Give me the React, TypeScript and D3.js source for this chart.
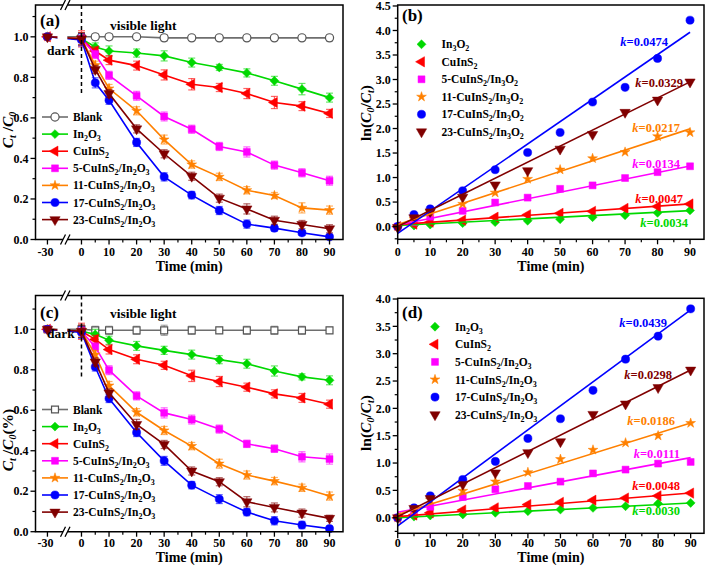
import React from "react";
import * as d3 from "d3";

const FONT = "'Liberation Serif','Times New Roman',Times,serif";

// ---------- data ----------
const timesDecay = [-30, 0, 5, 10, 20, 30, 40, 50, 60, 70, 80, 90];
const timesFit = [0, 5, 10, 20, 30, 40, 50, 60, 70, 80, 90];

const namesDecay = ["Blank", "In2O3", "CuInS2", "5-CuInS2/In2O3", "11-CuInS2/In2O3", "17-CuInS2/In2O3", "23-CuInS2/In2O3"];
const namesFitB = ["In3O2", "CuInS2", "5-CuInS2/In3O2", "11-CuInS2/In3O2", "17-CuInS2/In3O2", "23-CuInS2/In3O2"];
const namesFitD = ["In2O3", "CuInS2", "5-CuInS2/In2O3", "11-CuInS2/In2O3", "17-CuInS2/In2O3", "23-CuInS2/In2O3"];

// panel (a)
const blankA = [1.0, 1.0, 1.0, 1.0, 1.0, 0.995, 0.995, 0.995, 0.995, 0.995, 0.995, 0.995];
const in2o3A = [1.0, 0.99, 0.95, 0.93, 0.92, 0.906, 0.873, 0.849, 0.822, 0.783, 0.742, 0.7];
const cuinsA = [1.0, 0.99, 0.93, 0.885, 0.858, 0.812, 0.766, 0.75, 0.72, 0.676, 0.658, 0.622];
const c5A = [1.0, 0.99, 0.913, 0.81, 0.709, 0.607, 0.544, 0.459, 0.432, 0.367, 0.329, 0.29];
const c11A = [1.0, 0.99, 0.86, 0.745, 0.635, 0.493, 0.37, 0.309, 0.243, 0.217, 0.156, 0.145];
const c17A = [1.0, 0.985, 0.773, 0.687, 0.479, 0.309, 0.219, 0.143, 0.076, 0.056, 0.033, 0.013];
const c23A = [1.0, 0.99, 0.839, 0.72, 0.546, 0.423, 0.312, 0.204, 0.151, 0.095, 0.074, 0.053];

const errBlankA = [0.01, 0.015, 0.015, 0.015, 0.012, 0.015, 0.012, 0.012, 0.01, 0.012, 0.012, 0.015];
const errIn2o3A = [0.01, 0.03, 0.02, 0.025, 0.02, 0.025, 0.022, 0.015, 0.02, 0.022, 0.028, 0.022];
const errCuinsA = [0.01, 0.04, 0.02, 0.022, 0.022, 0.025, 0.028, 0.02, 0.025, 0.03, 0.022, 0.02];
const errC5A = [0.01, 0.03, 0.02, 0.02, 0.022, 0.022, 0.02, 0.02, 0.025, 0.02, 0.02, 0.022];
const errC11A = [0.01, 0.03, 0.02, 0.02, 0.02, 0.022, 0.018, 0.018, 0.018, 0.015, 0.025, 0.02];
const errC17A = [0.01, 0.03, 0.025, 0.02, 0.02, 0.02, 0.018, 0.02, 0.02, 0.015, 0.012, 0.01];
const errC23A = [0.01, 0.03, 0.02, 0.02, 0.02, 0.02, 0.02, 0.02, 0.025, 0.02, 0.02, 0.02];

// panel (c)
const blankC = [1.0, 1.0, 0.995, 0.995, 0.995, 0.995, 0.995, 0.995, 0.995, 0.995, 0.995, 0.995];
const in2o3C = [1.0, 0.99, 0.975, 0.946, 0.918, 0.896, 0.875, 0.85, 0.83, 0.794, 0.765, 0.748];
const cuinsC = [1.0, 0.99, 0.95, 0.9, 0.852, 0.822, 0.77, 0.742, 0.714, 0.681, 0.661, 0.63];
const c5C = [1.0, 0.99, 0.913, 0.798, 0.671, 0.587, 0.554, 0.507, 0.434, 0.41, 0.37, 0.359];
const c11C = [1.0, 0.99, 0.875, 0.722, 0.59, 0.5, 0.423, 0.336, 0.28, 0.25, 0.217, 0.176];
const c17C = [1.0, 0.985, 0.814, 0.658, 0.49, 0.35, 0.23, 0.161, 0.097, 0.054, 0.033, 0.015];
const c23C = [1.0, 0.99, 0.839, 0.686, 0.53, 0.431, 0.3, 0.247, 0.148, 0.12, 0.092, 0.066];

const errBlankC = [0.01, 0.02, 0.02, 0.02, 0.02, 0.025, 0.02, 0.015, 0.02, 0.02, 0.02, 0.015];
const errIn2o3C = [0.01, 0.03, 0.025, 0.02, 0.022, 0.02, 0.022, 0.02, 0.022, 0.025, 0.015, 0.022];
const errCuinsC = [0.01, 0.04, 0.02, 0.022, 0.022, 0.02, 0.028, 0.025, 0.02, 0.02, 0.022, 0.02];
const errC5C = [0.01, 0.03, 0.02, 0.022, 0.02, 0.025, 0.022, 0.02, 0.018, 0.018, 0.025, 0.025];
const errC11C = [0.01, 0.03, 0.02, 0.02, 0.018, 0.02, 0.018, 0.022, 0.02, 0.018, 0.018, 0.02];
const errC17C = [0.01, 0.03, 0.02, 0.02, 0.02, 0.022, 0.018, 0.022, 0.018, 0.02, 0.018, 0.012];
const errC23C = [0.01, 0.03, 0.02, 0.02, 0.025, 0.02, 0.02, 0.02, 0.025, 0.022, 0.02, 0.015];

// panel (b)
const in2o3B = [0.0, 0.02, 0.04, 0.07, 0.09, 0.12, 0.15, 0.19, 0.23, 0.28, 0.33];
const cuinsB = [0.0, 0.05, 0.09, 0.13, 0.19, 0.24, 0.27, 0.31, 0.37, 0.41, 0.46];
const c5B = [0.0, 0.09, 0.2, 0.32, 0.49, 0.59, 0.77, 0.84, 0.99, 1.11, 1.23];
const c11B = [0.0, 0.15, 0.29, 0.46, 0.69, 0.97, 1.16, 1.39, 1.52, 1.84, 1.92];
const c17B = [0.0, 0.245, 0.36, 0.73, 1.16, 1.51, 1.92, 2.54, 2.84, 3.43, 4.21];
const c23B = [-0.02, 0.18, 0.3, 0.6, 0.85, 1.14, 1.58, 1.88, 2.33, 2.58, 2.95];
const fitSlopeB = [0.0034, 0.0047, 0.0134, 0.0217, 0.0456, 0.0328];
const fitInterceptB = [0.02, 0.04, 0.03, 0.04, -0.14, 0.0];
const kLabelB = ["0.0034", "0.0047", "0.0134", "0.0217", "0.0474", "0.0329"];

// panel (d)
const in2o3D = [0.0, 0.02, 0.04, 0.06, 0.09, 0.12, 0.15, 0.18, 0.21, 0.26, 0.27];
const cuinsD = [0.0, 0.05, 0.09, 0.14, 0.18, 0.24, 0.28, 0.32, 0.36, 0.4, 0.45];
const c5D = [0.0, 0.09, 0.2, 0.38, 0.52, 0.58, 0.66, 0.81, 0.88, 0.99, 1.02];
const c11D = [0.0, 0.13, 0.33, 0.49, 0.66, 0.83, 1.07, 1.24, 1.37, 1.5, 1.73];
const c17D = [0.0, 0.18, 0.4, 0.7, 1.03, 1.45, 1.81, 2.33, 2.9, 3.32, 3.82];
const c23D = [0.0, 0.17, 0.35, 0.61, 0.82, 1.19, 1.39, 1.89, 2.08, 2.38, 2.7];
const fitSlopeD = [0.003, 0.0048, 0.0111, 0.0186, 0.0439, 0.0298];
const fitInterceptD = [0.0, 0.02, 0.1, 0.06, -0.15, 0.02];
const kLabelD = ["0.0030", "0.0048", "0.0111", "0.0186", "0.0439", "0.0298"];

const xTicksDecay = [-30, 0, 10, 20, 30, 40, 50, 60, 70, 80, 90];
const xTicksFit = [0, 10, 20, 30, 40, 50, 60, 70, 80, 90];

// ---------- styles ----------
const COLORS = ["#6e6e6e", "#00d800", "#ff0000", "#ff00ff", "#ff8000", "#0000ff", "#800000"];
const SHAPES = ["circleOpen", "diamond", "triLeft", "square", "star", "circle", "triDown"];

function symbolPath(shape: string) {
  switch (shape) {
    case "circleOpen":
    case "circle":
      return { d: d3.symbol().type(d3.symbolCircle).size(52)()!, r: 0 };
    case "squareOpen":
    case "square":
      return { d: d3.symbol().type(d3.symbolSquare).size(48)()!, r: 0 };
    case "diamond":
      return { d: d3.symbol().type(d3.symbolSquare).size(40)()!, r: 45 };
    case "triLeft":
      return { d: d3.symbol().type(d3.symbolTriangle).size(46)()!, r: -90 };
    case "triDown":
      return { d: d3.symbol().type(d3.symbolTriangle).size(46)()!, r: 180 };
    case "star":
      return { d: d3.symbol().type(d3.symbolStar).size(30)()!, r: 0 };
  }
  return { d: "", r: 0 };
}

function Marker({ shape, color, x, y }: { shape: string; color: string; x: number; y: number }) {
  const { d, r } = symbolPath(shape);
  const open = shape.endsWith("Open");
  return (
    <path
      d={d}
      transform={`translate(${x},${y}) rotate(${r})`}
      fill={open ? "#fff" : color}
      stroke={open ? "#555" : color}
      strokeWidth={open ? 1.2 : 0.5}
    />
  );
}

// chemistry label: digit after a letter -> subscript
function chem(label: string, subSize = 8) {
  const parts: { t: string; sub: boolean }[] = [];
  for (let i = 0; i < label.length; i++) {
    const ch = label[i];
    const sub = /[0-9]/.test(ch) && i > 0 && /[A-Za-z]/.test(label[i - 1]);
    if (parts.length && parts[parts.length - 1].sub === sub) parts[parts.length - 1].t += ch;
    else parts.push({ t: ch, sub });
  }
  let lvl = false;
  return parts.map((p, i) => {
    let dy = 0;
    if (p.sub && !lvl) dy = 3;
    if (!p.sub && lvl) dy = -3;
    lvl = p.sub;
    return (
      <tspan key={i} dy={dy} fontSize={p.sub ? subSize : undefined}>
        {p.t}
      </tspan>
    );
  });
}

type Box = { left: number; right: number; top: number; bottom: number };

function Frame({ box, gap }: { box: Box; gap?: [number, number] }) {
  const { left, right, top, bottom } = box;
  if (!gap) {
    return <rect x={left} y={top} width={right - left} height={bottom - top} fill="none" stroke="#000" strokeWidth={1.5} />;
  }
  const [g0, g1] = gap;
  const d = `M${g0},${top}H${left}V${bottom}H${g0}M${g1},${bottom}H${right}V${top}H${g1}`;
  const slash = (cx: number, cy: number) => `M${cx - 2.5},${cy + 5}L${cx + 2.5},${cy - 5}`;
  return (
    <g>
      <path d={d} fill="none" stroke="#000" strokeWidth={1.5} />
      <path d={slash(g0, top) + slash(g1, top) + slash(g0, bottom) + slash(g1, bottom)} stroke="#000" strokeWidth={1.3} fill="none" />
    </g>
  );
}

function XAxis({ x, box, ticks, minor, labelY, titleY }: any) {
  return (
    <g fontFamily={FONT} fontWeight="bold">
      {ticks.map((t: number) => (
        <g key={"M" + t}>
          <line x1={x(t)} x2={x(t)} y1={box.bottom} y2={box.bottom + 5} stroke="#000" strokeWidth={1.3} />
          <text x={x(t) - (t < 0 ? 2 : 0)} y={labelY} textAnchor="middle" fontSize={12}>
            {t}
          </text>
        </g>
      ))}
      {minor.map((t: number) => (
        <line key={"m" + t} x1={x(t)} x2={x(t)} y1={box.bottom} y2={box.bottom + 3} stroke="#000" strokeWidth={1.2} />
      ))}
      <text x={(box.left + box.right) / 2} y={titleY} textAnchor="middle" fontSize={14}>
        Time (min)
      </text>
    </g>
  );
}

function YAxis({ y, box, ticks, minor }: any) {
  const fmt = d3.format(".1f");
  return (
    <g fontFamily={FONT} fontWeight="bold">
      {ticks.map((t: number) => (
        <g key={"M" + t}>
          <line x1={box.left - 5} x2={box.left} y1={y(t)} y2={y(t)} stroke="#000" strokeWidth={1.3} />
          <text x={box.left - 7} y={y(t) + 4.2} textAnchor="end" fontSize={12}>
            {fmt(t)}
          </text>
        </g>
      ))}
      {minor.map((t: number) => (
        <line key={"m" + t} x1={box.left - 3} x2={box.left} y1={y(t)} y2={y(t)} stroke="#000" strokeWidth={1.2} />
      ))}
    </g>
  );
}

function DecayPanel({ box, yMax, series, errs, blankShape, tag, tagY, lightY, darkY, dashEnd, legendY, titleParts, titleCenter, labelY, titleY }: any) {
  const x = d3.scaleLinear().domain([-35, -26, -5, 95]).range([box.left, 57, 67.7, 343.3]);
  const y = d3.scaleLinear().domain([0, yMax]).range([box.bottom, box.top]);
  const line = d3.line<[number, number]>().x((d) => x(d[0])).y((d) => y(d[1]));
  const shapes = SHAPES.map((s, i) => (i === 0 ? blankShape : s));
  const yTicks = d3.range(0, 1.01, 0.2);
  const yMinor = d3.range(0.1, yMax, 0.2);
  const xMinor = d3.range(5, 90, 10);
  return (
    <g>
      {series.map((vals: number[], si: number) => {
        const pts = timesDecay.map((t, i) => [t, vals[i]] as [number, number]);
        return (
          <g key={si}>
            <path d={line(pts)!} fill="none" stroke={COLORS[si]} strokeWidth={1.6} />
            {pts.map((p, i) => {
              const e = errs[si][i];
              const px = x(p[0]);
              return (
                <g key={i} stroke={COLORS[si]} strokeOpacity={0.6} strokeWidth={1.2}>
                  <line x1={px} x2={px} y1={y(p[1] - e)} y2={y(p[1] + e)} />
                  <line x1={px - 3.5} x2={px + 3.5} y1={y(p[1] - e)} y2={y(p[1] - e)} />
                  <line x1={px - 3.5} x2={px + 3.5} y1={y(p[1] + e)} y2={y(p[1] + e)} />
                </g>
              );
            })}
            {pts.map((p, i) => (
              <Marker key={"k" + i} shape={shapes[si]} color={COLORS[si]} x={x(p[0])} y={y(p[1])} />
            ))}
          </g>
        );
      })}
      <rect x={57.5} y={box.top + 1} width={9.8} height={box.bottom - box.top - 2} fill="#fff" />
      <line x1={x(0)} x2={x(0)} y1={box.top} y2={dashEnd} stroke="#000" strokeWidth={1.5} strokeDasharray="4,3" />
      <Frame box={box} gap={[63, 67.5]} />
      <XAxis x={x} box={box} ticks={xTicksDecay} minor={xMinor} labelY={labelY} titleY={titleY} />
      <YAxis y={y} box={box} ticks={yTicks} minor={yMinor} />
      <g fontFamily={FONT} fontWeight="bold">
        <text x={40} y={tagY} fontSize={17}>{tag}</text>
        <text x={110} y={lightY} fontSize={13.5}>visible light</text>
        <text x={47} y={darkY} fontSize={13.5}>dark</text>
      </g>
      <g fontFamily={FONT} fontWeight="bold" fontSize={11.5}>
        {namesDecay.map((n, i) => {
          const ly = legendY + i * 17.1;
          return (
            <g key={n}>
              <line x1={42} x2={68} y1={ly} y2={ly} stroke={COLORS[i]} strokeWidth={1.6} />
              <Marker shape={shapes[i]} color={COLORS[i]} x={55} y={ly} />
              <text x={73} y={ly + 4}>{chem(n)}</text>
            </g>
          );
        })}
      </g>
      <text transform={`translate(${titleCenter[0]},${titleCenter[1]}) rotate(-90)`} textAnchor="middle" fontFamily={FONT} fontWeight="bold" fontSize={15.5}>
        {titleParts}
      </text>
    </g>
  );
}

function FitPanel({ box, yDomain, xMax, series, slopes, intercepts, kLabels, kPos, names, tag, tagY, legendX, legendY, legendDy, yTicks, yMinor, titleCenter, labelY, titleY }: any) {
  const x = d3.scaleLinear().domain([0, xMax]).range([box.left, box.right]);
  const y = d3.scaleLinear().domain(yDomain).range([box.bottom, box.top]);
  const shapes = SHAPES.slice(1);
  const colors = COLORS.slice(1);
  const xMinor = d3.range(5, 90, 10);
  return (
    <g>
      {series.map((vals: number[], si: number) => (
        <g key={"p" + si}>
          {timesFit.map((t, i) => (
            <Marker key={i} shape={shapes[si]} color={colors[si]} x={x(t)} y={y(vals[i])} />
          ))}
        </g>
      ))}
      {series.map((_: number[], si: number) => (
        <line
          key={"l" + si}
          x1={x(0)}
          x2={x(90)}
          y1={y(intercepts[si])}
          y2={y(intercepts[si] + slopes[si] * 90)}
          stroke={colors[si]}
          strokeWidth={1.6}
        />
      ))}
      <Frame box={box} />
      <XAxis x={x} box={box} ticks={xTicksFit} minor={xMinor} labelY={labelY} titleY={titleY} />
      <YAxis y={y} box={box} ticks={yTicks} minor={yMinor} />
      <g fontFamily={FONT} fontWeight="bold">
        <text x={402} y={tagY} fontSize={17}>{tag}</text>
        {kLabels.map((k: string, i: number) => (
          <text key={k + i} x={kPos[i][0]} y={kPos[i][1]} textAnchor="end" fontSize={12.5} fill={colors[i]}>
            <tspan fontStyle="italic">k</tspan>={k}
          </text>
        ))}
      </g>
      <g fontFamily={FONT} fontWeight="bold" fontSize={11.5}>
        {names.map((n: string, i: number) => {
          const ly = legendY + i * legendDy;
          return (
            <g key={n}>
              <Marker shape={shapes[i]} color={colors[i]} x={legendX} y={ly} />
              <text x={legendX + 20} y={ly + 4}>{chem(n)}</text>
            </g>
          );
        })}
      </g>
      <text transform={`translate(${titleCenter[0]},${titleCenter[1]}) rotate(-90)`} textAnchor="middle" fontFamily={FONT} fontWeight="bold" fontSize={15.5}>
        ln(<tspan fontStyle="italic">C</tspan>
        <tspan dy={3} fontSize={10} fontStyle="italic">0</tspan>
        <tspan dy={-3}>/</tspan>
        <tspan fontStyle="italic">C</tspan>
        <tspan dy={3} fontSize={10} fontStyle="italic">t</tspan>
        <tspan dy={-3}>)</tspan>
      </text>
    </g>
  );
}

const ctTitle = (suffix: string) => (
  <>
    <tspan fontStyle="italic">C</tspan>
    <tspan dy={3} fontSize={10} fontStyle="italic">t</tspan>
    <tspan dy={-3}> /</tspan>
    <tspan fontStyle="italic">C</tspan>
    <tspan dy={3} fontSize={10} fontStyle="italic">0</tspan>
    <tspan dy={-3}>{suffix}</tspan>
  </>
);

export default function App() {
  const boxA = { left: 35.5, right: 343, top: 5, bottom: 239.5 };
  const boxC = { left: 35.5, right: 343, top: 295.5, bottom: 531.7 };
  const boxB = { left: 397.7, right: 704, top: 5, bottom: 239.3 };
  const boxD = { left: 397.7, right: 704, top: 298.3, bottom: 533.3 };
  return (
    <svg width={709} height={566} style={{ display: "block", position: "absolute", left: 0, top: 0, background: "#fff" }}>
      <rect width={709} height={566} fill="#fff" />
      <DecayPanel
        box={boxA}
        yMax={1.157}
        series={[blankA, in2o3A, cuinsA, c5A, c11A, c17A, c23A]}
        errs={[errBlankA, errIn2o3A, errCuinsA, errC5A, errC11A, errC17A, errC23A]}
        blankShape="circleOpen"
        tag="(a)"
        tagY={26}
        lightY={29.5}
        darkY={55}
        dashEnd={95}
        legendY={117}
        titleParts={ctTitle("")}
        titleCenter={[13, 130]}
        labelY={255.5}
        titleY={271}
      />
      <DecayPanel
        box={boxC}
        yMax={1.167}
        series={[blankC, in2o3C, cuinsC, c5C, c11C, c17C, c23C]}
        errs={[errBlankC, errIn2o3C, errCuinsC, errC5C, errC11C, errC17C, errC23C]}
        blankShape="squareOpen"
        tag="(c)"
        tagY={318}
        lightY={318}
        darkY={338}
        dashEnd={377}
        legendY={409.5}
        titleParts={ctTitle("(%)")}
        titleCenter={[13, 440]}
        labelY={546.5}
        titleY={562}
      />
      <FitPanel
        box={boxB}
        yDomain={[-0.26, 4.52]}
        xMax={94.3}
        series={[in2o3B, cuinsB, c5B, c11B, c17B, c23B]}
        slopes={fitSlopeB}
        intercepts={fitInterceptB}
        kLabels={kLabelB}
        kPos={[[688, 226.5], [683, 203], [680, 167.5], [680, 132], [668, 45.5], [683, 87]]}
        names={namesFitB}
        tag="(b)"
        tagY={21}
        legendX={421.5}
        legendY={44.3}
        legendDy={17.5}
        yTicks={d3.range(0, 4.51, 0.5)}
        yMinor={d3.range(-0.25, 4.5, 0.5)}
        titleCenter={[371, 113]}
        labelY={255.5}
        titleY={271}
      />
      <FitPanel
        box={boxD}
        yDomain={[-0.285, 4.013]}
        xMax={94.1}
        series={[in2o3D, cuinsD, c5D, c11D, c17D, c23D]}
        slopes={fitSlopeD}
        intercepts={fitInterceptD}
        kLabels={kLabelD}
        kPos={[[680, 514.5], [680, 489.5], [680, 457.5], [675, 424.5], [667, 327], [672, 378.5]]}
        names={namesFitD}
        tag="(d)"
        tagY={318}
        legendX={435}
        legendY={326.7}
        legendDy={17.6}
        yTicks={d3.range(0, 4.01, 0.5)}
        yMinor={d3.range(-0.25, 4.0, 0.5)}
        titleCenter={[371, 423]}
        labelY={547}
        titleY={562}
      />
    </svg>
  );
}
